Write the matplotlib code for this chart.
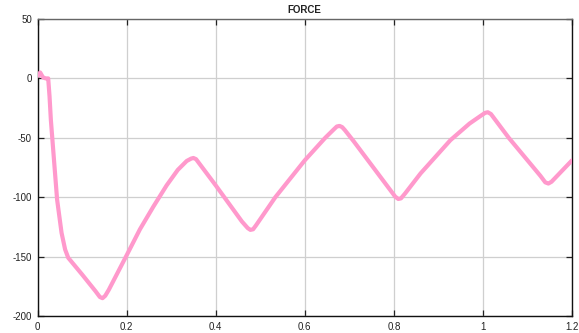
import matplotlib
matplotlib.use("Agg")
import matplotlib.pyplot as plt

time = [0.0, 0.006, 0.012, 0.018, 0.024, 0.027, 0.03, 0.044, 0.054, 0.062, 0.069,
        0.1, 0.13, 0.14, 0.146, 0.152, 0.16, 0.2, 0.23, 0.26, 0.29, 0.315, 0.335, 0.345,
        0.350, 0.356, 0.362, 0.4, 0.459, 0.472, 0.478, 0.484, 0.49, 0.534, 0.6,
        0.646, 0.665, 0.672, 0.678, 0.684, 0.69, 0.71, 0.792, 0.803, 0.81, 0.816, 0.825,
        0.86, 0.927, 0.97, 0.995, 1.005, 1.011, 1.018, 1.058, 1.129, 1.14, 1.147,
        1.154, 1.2]
force = [2, 5, 1, 0, 0, -15, -35, -102, -130, -144, -151,
         -165, -179, -184, -185, -183, -178, -149, -127, -108, -90, -77, -69.5, -67.5,
         -67, -68, -71, -90, -120.5, -126, -127.5, -127, -124, -100, -69,
         -50, -43, -40.5, -40, -41, -43.5, -53, -94, -99.5, -101.5, -101, -97,
         -80, -52, -38, -31.5, -29, -28.5, -30, -50, -82, -87.5, -88.5,
         -87, -69]

xticks = [0, 0.2, 0.4, 0.6, 0.8, 1, 1.2]
xticklabels = ["0", "0.2", "0.4", "0.6", "0.8", "1", "1.2"]
yticks = [50, 0, -50, -100, -150, -200]
title = "FORCE"

plt.rcParams['font.family'] = ['Liberation Sans', 'DejaVu Sans']

fig = plt.figure(figsize=(5.79, 3.33), dpi=100)
ax = fig.add_axes([37.5 / 579, 1 - 316 / 333, (572 - 37.5) / 579, (316 - 19) / 333])

ax.plot(time, force, color='#ff99cc', lw=3, solid_joinstyle='round', solid_capstyle='round', zorder=3)

ax.set_xlim(0, 1.2)
ax.set_ylim(-200, 50)
ax.set_xticks(xticks)
ax.set_xticklabels(xticklabels)
ax.set_yticks(yticks)
ax.set_yticklabels([str(v) for v in yticks])

ax.grid(True, color='#cfcfcf', lw=0.9)
ax.set_axisbelow(True)
ax.tick_params(direction='in', length=4, width=0.9, labelsize=7, colors='#222222',
               top=True, right=True, pad=4)
for s in ['left', 'bottom', 'right']:
    ax.spines[s].set_color('#111111')
    ax.spines[s].set_linewidth(1.0)
ax.spines['top'].set_color('#666666')
ax.spines['top'].set_linewidth(1.0)

ax.set_title(title, fontsize=7, fontweight='bold', color='#222222', pad=4)

fig.savefig('out.png', dpi=100)
